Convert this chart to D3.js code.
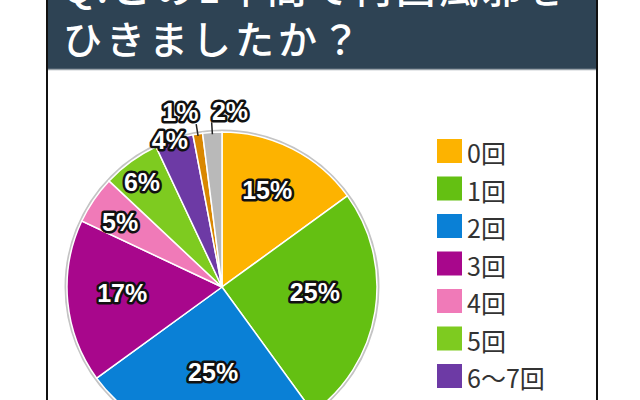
<!DOCTYPE html>
<html>
<head>
<meta charset="utf-8">
<script src="https://cdn.jsdelivr.net/npm/d3@7"></script>
<style>
  html, body { margin: 0; padding: 0; background: #fff; }
  svg { display: block; }
</style>
</head>
<body>
<div id="chart"></div>
<script>
// Data
const categories = ["0回", "1回", "2回", "3回", "4回", "5回", "6〜7回", "8〜9回", "10回以上"];
const shares = [15, 25, 25, 17, 5, 6, 4, 1, 2];
const colors = ["#fdb300", "#64c012", "#0a80d6", "#a8078c", "#f07ab8", "#7ecb20", "#6d3aa5", "#d98700", "#b9b9b9"];
const titleLines = ["Q.この1年間で何回風邪を", "ひきましたか？"];

// Label placement (layout only): radius from centre and angle nudge in degrees
const labelRadius = [107, 93, 85, 100, 121, 132, 156, 180, 176];
const labelNudge = [-2, -6, -3, 2, -1.5, -1.3, -1.5, -4.4, 6.2];

const width = 640, height = 400;
const panelLeft = 47, panelRight = 597, headerH = 69;
const cx = 222, cy = 287, R = 155;

const svg = d3.select("#chart")
  .append("svg")
  .attr("width", width)
  .attr("height", height);

// Header band
svg.append("rect")
  .attr("x", panelLeft).attr("y", 0)
  .attr("width", panelRight - panelLeft).attr("height", headerH)
  .attr("fill", "#2e4354");
svg.append("line")
  .attr("x1", panelLeft).attr("x2", panelRight)
  .attr("y1", headerH + 0.5).attr("y2", headerH + 0.5)
  .attr("stroke", "#9aa3aa").attr("stroke-width", 1.5);

svg.selectAll("text.title")
  .data(titleLines)
  .join("text")
  .attr("class", "title")
  .attr("x", 63)
  .attr("y", (d, i) => 3 + i * 51)
  .attr("fill", "#fff")
  .attr("font-family", "'Noto Sans CJK JP', sans-serif")
  .attr("font-weight", 500)
  .attr("font-size", 39)
  .attr("letter-spacing", 4)
  .text(d => d);

// Panel borders
[panelLeft, panelRight].forEach(x => {
  svg.append("line")
    .attr("x1", x).attr("x2", x)
    .attr("y1", 0).attr("y2", height)
    .attr("stroke", "#111").attr("stroke-width", 2);
});

// Pie
const pie = d3.pie().sort(null).value(d => d)(shares);
const arc = d3.arc().innerRadius(0).outerRadius(R);
const g = svg.append("g").attr("transform", `translate(${cx},${cy})`);

g.append("circle")
  .attr("r", R + 1)
  .attr("fill", "none")
  .attr("stroke", "#c4c4c4")
  .attr("stroke-width", 3);

g.selectAll("path.slice")
  .data(pie)
  .join("path")
  .attr("class", "slice")
  .attr("d", arc)
  .attr("fill", (d, i) => colors[i])
  .attr("stroke", "#fff")
  .attr("stroke-width", 1.5);

const midAngle = d => (d.startAngle + d.endAngle) / 2;
const polar = (a, r) => [r * Math.sin(a), -r * Math.cos(a)];

// Leader lines for the slices labelled outside
g.selectAll("line.leader")
  .data(pie.filter(d => labelRadius[d.index] > R + 10))
  .join("line")
  .attr("class", "leader")
  .attr("x1", d => polar(midAngle(d), R - 2)[0])
  .attr("y1", d => polar(midAngle(d), R - 2)[1])
  .attr("x2", d => polar(midAngle(d), R + 10)[0])
  .attr("y2", d => polar(midAngle(d), R + 10)[1])
  .attr("stroke", "#222")
  .attr("stroke-width", 1.5);

// Percentage labels: white with black outline
g.selectAll("text.pct")
  .data(pie)
  .join("text")
  .attr("class", "pct")
  .attr("transform", d => {
    const a = midAngle(d) + labelNudge[d.index] * Math.PI / 180;
    const p = polar(a, labelRadius[d.index]);
    return `translate(${p[0]},${p[1]})`;
  })
  .attr("text-anchor", "middle")
  .attr("dominant-baseline", "central")
  .attr("font-family", "'Liberation Sans', Arial, sans-serif")
  .attr("font-weight", "bold")
  .attr("font-size", 25)
  .attr("fill", "#fff")
  .attr("stroke", "#111")
  .attr("stroke-width", 5)
  .attr("stroke-linejoin", "round")
  .attr("paint-order", "stroke")
  .text(d => d.data + "%");

// Legend
const legendY = d3.scaleLinear().domain([0, 1]).range([151, 188.5]);
const legend = svg.selectAll("g.legend")
  .data(categories)
  .join("g")
  .attr("class", "legend")
  .attr("transform", (d, i) => `translate(437,${legendY(i)})`);

legend.append("rect")
  .attr("x", 0).attr("y", -12)
  .attr("width", 25).attr("height", 24)
  .attr("fill", (d, i) => colors[i]);

legend.append("text")
  .attr("x", 30)
  .attr("y", 1)
  .attr("dominant-baseline", "central")
  .attr("font-family", "'Noto Sans CJK JP', sans-serif")
  .attr("font-size", 25)
  .attr("fill", "#333")
  .text(d => d);
</script>
</body>
</html>
